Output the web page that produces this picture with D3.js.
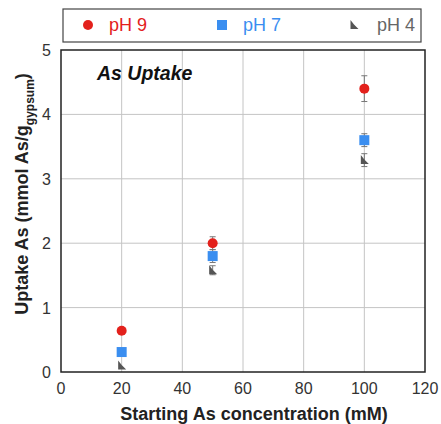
<!DOCTYPE html>
<html>
<head>
<meta charset="utf-8">
<script src="https://cdn.jsdelivr.net/npm/d3@7"></script>
<style>
body { margin: 0; background: #fff; }
text { font-family: "Liberation Sans", Arial, sans-serif; }
</style>
</head>
<body>
<div id="chart"></div>
<script>
var conc = [20, 50, 100]
var ph9 = [0.64, 2.0, 4.4]
var ph9err = [0, 0.1, 0.2]
var ph7 = [0.31, 1.8, 3.6]
var ph7err = [0, 0.1, 0.1]
var ph4 = [0.1, 1.58, 3.29]
var ph4err = [0, 0.07, 0.1]
var xTicks = [0, 20, 40, 60, 80, 100, 120]
var yTicks = [0, 1, 2, 3, 4, 5]

var series = [
	{name: 'pH 9', y: ph9, err: ph9err, color: '#e3211c', text: '#e3211c', shape: 'circle'},
	{name: 'pH 7', y: ph7, err: ph7err, color: '#3a8ef0', text: '#3a8ef0', shape: 'square'},
	{name: 'pH 4', y: ph4, err: ph4err, color: '#555555', text: '#666666', shape: 'tri'}
]

var W = 441, H = 424
var pL = 61, pR = 425, pT = 50, pB = 372

var x = d3.scaleLinear().domain([0, 120]).range([pL, pR])
var y = d3.scaleLinear().domain([0, 5]).range([pB, pT])

var svg = d3.select('#chart').append('svg')
	.attr('width', W).attr('height', H)

// grid
svg.append('g').selectAll('line').data(xTicks.slice(1, -1)).enter().append('line')
	.attr('x1', d => x(d)).attr('x2', d => x(d))
	.attr('y1', pT).attr('y2', pB)
	.style('stroke', '#c4c4c4').style('stroke-width', 1)
svg.append('g').selectAll('line').data(yTicks.slice(1, -1)).enter().append('line')
	.attr('y1', d => y(d)).attr('y2', d => y(d))
	.attr('x1', pL).attr('x2', pR)
	.style('stroke', '#c4c4c4').style('stroke-width', 1)

// frame
svg.append('rect')
	.attr('x', pL).attr('y', pT)
	.attr('width', pR - pL).attr('height', pB - pT)
	.style('fill', 'none').style('stroke', '#222').style('stroke-width', 1.5)

// tick labels
svg.append('g').selectAll('text').data(xTicks).enter().append('text')
	.attr('x', d => x(d)).attr('y', pB + 22)
	.attr('text-anchor', 'middle')
	.style('font-size', '16px').style('fill', '#333')
	.text(d => d)
svg.append('g').selectAll('text').data(yTicks).enter().append('text')
	.attr('x', pL - 10).attr('y', d => y(d) + 6)
	.attr('text-anchor', 'end')
	.style('font-size', '16px').style('fill', '#333')
	.text(d => d)

// axis titles
svg.append('text')
	.attr('x', 254).attr('y', 420)
	.attr('text-anchor', 'middle')
	.style('font-size', '18px').style('font-weight', 'bold').style('fill', '#222')
	.text('Starting As concentration (mM)')

var yt = svg.append('text')
	.attr('transform', 'translate(28,' + 194 + ') rotate(-90)')
	.attr('text-anchor', 'middle')
	.style('font-size', '18px').style('font-weight', 'bold').style('fill', '#222')
yt.append('tspan').text('Uptake As (mmol As/g')
yt.append('tspan').attr('dy', 6).style('font-size', '12px').text('gypsum')
yt.append('tspan').attr('dy', -6).text(')')

svg.append('text')
	.attr('x', 97).attr('y', 80)
	.style('font-size', '19.5px').style('font-weight', 'bold').style('font-style', 'italic')
	.style('fill', '#111')
	.text('As Uptake')

function marker(g, shape, color) {
	if (shape === 'circle')
		g.append('circle').attr('r', 5).style('fill', color)
	else if (shape === 'square')
		g.append('rect').attr('x', -5).attr('y', -5).attr('width', 10).attr('height', 10).style('fill', color)
	else
		g.append('path').attr('d', 'M-3.5,-5 L0,-0.5 L4.5,4 L-3.5,4 Z').style('fill', color)
}

// error bars and markers
series.slice().reverse().forEach(s => {
	var g = svg.append('g')
	conc.forEach((c, i) => {
		if (s.err[i] > 0) {
			var px = x(c)
			g.append('line').attr('x1', px).attr('x2', px)
				.attr('y1', y(s.y[i] - s.err[i])).attr('y2', y(s.y[i] + s.err[i]))
				.style('stroke', '#777').style('stroke-width', 1)
			;[s.y[i] - s.err[i], s.y[i] + s.err[i]].forEach(v => {
				g.append('line').attr('x1', px - 3).attr('x2', px + 3)
					.attr('y1', y(v)).attr('y2', y(v))
					.style('stroke', '#777').style('stroke-width', 1)
			})
		}
		var m = g.append('g').attr('transform', 'translate(' + x(c) + ',' + y(s.y[i]) + ')')
		marker(m, s.shape, s.color)
	})
})

// legend
svg.append('rect')
	.attr('x', 63).attr('y', 9).attr('width', 358).attr('height', 33)
	.style('fill', '#fff').style('stroke', '#444').style('stroke-width', 1.2)
var lx = [88, 222, 354]
var tx = [109, 243, 377]
series.forEach((s, i) => {
	var m = svg.append('g').attr('transform', 'translate(' + lx[i] + ',25)')
	marker(m, s.shape, s.color)
	svg.append('text')
		.attr('x', tx[i]).attr('y', 31)
		.style('font-size', '18px').style('fill', s.text)
		.text(s.name)
})
</script>
</body>
</html>
